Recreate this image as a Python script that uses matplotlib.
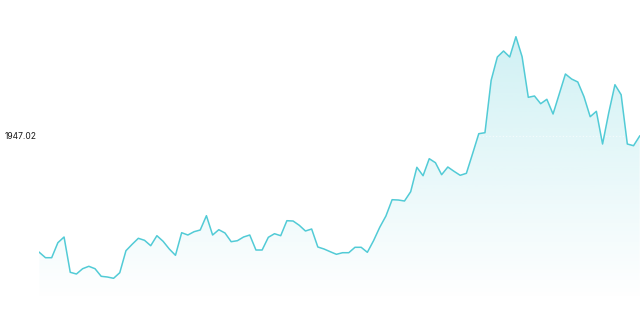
import numpy as np
import matplotlib
matplotlib.use("Agg")
import matplotlib.pyplot as plt
from matplotlib.colors import to_rgb

# price series
values = [
    1365.5, 1338.5, 1338.5, 1413.5, 1442.0, 1265.5, 1257.0, 1283.5, 1295.5, 1283.5,
    1245.5, 1242.0, 1235.5, 1263.5, 1373.5, 1405.5, 1435.5, 1425.5, 1398.5, 1448.5,
    1420.5, 1382.0, 1350.5, 1463.5, 1452.0, 1468.5, 1477.0, 1548.5, 1452.0, 1478.5,
    1462.0, 1418.5, 1423.5, 1442.0, 1452.0, 1377.0, 1377.0, 1440.5, 1458.5, 1448.5,
    1523.5, 1522.0, 1500.5, 1472.0, 1482.0, 1392.0, 1382.0, 1368.5, 1355.5, 1363.5,
    1363.5, 1390.5, 1390.5, 1365.5, 1423.5, 1490.5, 1547.0, 1628.5, 1627.0, 1622.0,
    1668.5, 1790.5, 1748.5, 1833.5, 1813.5, 1753.5, 1792.0, 1770.5, 1750.5, 1760.5,
    1858.5, 1958.5, 1963.5, 2225.5, 2342.0, 2372.0, 2342.0, 2443.5, 2343.5, 2140.5,
    2147.0, 2108.5, 2130.5, 2057.0, 2157.0, 2257.0, 2232.0, 2217.0, 2143.5, 2043.5,
    2070.5, 1907.0, 2063.5, 2203.5, 2153.5, 1907.0, 1898.5, 1947.02,
]
last_label = "1947.02"

line_color = "#52cbd6"
y_lo, y_hi = 1127.02, 2627.02

xs = np.arange(len(values))
ys = np.array(values)

fig = plt.figure(figsize=(6.4, 3.2), dpi=100)
ax = fig.add_axes([39.3 / 640, 20 / 320, 600.4 / 640, 300 / 320])
ax.set_xlim(0, len(values) - 1)
ax.set_ylim(y_lo, y_hi)
ax.axis("off")

# gradient area under the line
fill = ax.fill_between(xs, ys, y_lo, color="none", lw=0)
rgb = to_rgb(line_color)
grad = np.zeros((256, 1, 4))
grad[:, 0, 0] = rgb[0]
grad[:, 0, 1] = rgb[1]
grad[:, 0, 2] = rgb[2]
grad[:, 0, 3] = np.linspace(0.27, 0.0, 256)
top = ys.max()
img = ax.imshow(grad, aspect="auto", extent=[0, len(values) - 1, y_lo, top],
                origin="upper", zorder=1)
img.set_clip_path(fill.get_paths()[0], transform=ax.transData)

ax.axhline(values[-1], color="white", lw=0.8, ls=(0, (1, 2)), alpha=0.7, zorder=2)
ax.plot(xs, ys, color=line_color, lw=1.1, zorder=3)

fig.text(5 / 640, 1 - 136.5 / 320, last_label, fontsize=6.1, family="Inter",
         color="#1a1a1a", va="center", ha="left")

fig.savefig("out.png", dpi=100)
